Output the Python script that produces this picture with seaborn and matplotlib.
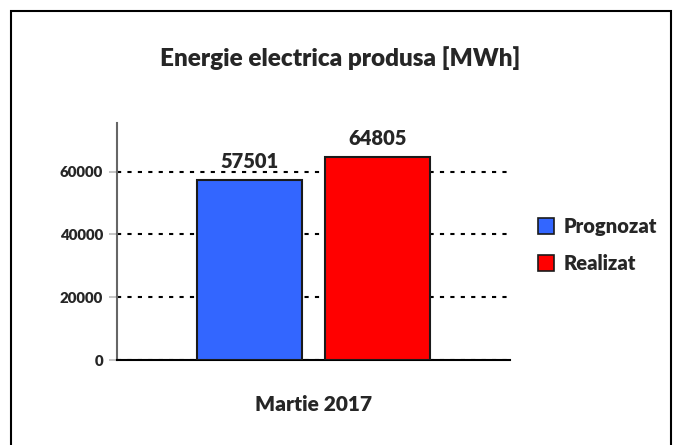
import pandas as pd
import seaborn as sns
import matplotlib.pyplot as plt
from matplotlib.patches import Rectangle, Patch

# date grafic
perioada = ["Martie 2017"]
serii = ["Prognozat", "Realizat"]
valori = [57501, 64805]
culori = ["#3366FF", "#FF0000"]
y_ticks = [0, 20000, 40000, 60000]

df = pd.DataFrame({"perioada": perioada * len(serii), "serie": serii, "valoare": valori})

sns.set_theme(style="white")
plt.rcParams['font.family'] = ['Lato', 'DejaVu Sans']

fig = plt.figure(figsize=(6.74, 4.45), dpi=100)
ax = fig.add_axes([117 / 674, 1 - 360 / 445, 393 / 674, 237 / 445])

sns.barplot(data=df, x="perioada", y="valoare", hue="serie", palette=culori,
            saturation=1, width=0.8, gap=0.18, edgecolor="#1a1a1a", linewidth=1.5,
            legend=False, ax=ax, zorder=3)

ax.set_xlim(-0.614, 0.614)
ax.set_ylim(0, 75500)
ax.set_yticks(y_ticks)
ax.set_yticklabels([str(v) for v in y_ticks], fontweight="heavy", fontsize=10.8)
ax.set_xticks([-0.614, 0.614])
ax.set_xticklabels(["", ""])
ax.tick_params(axis="x", length=8, color="#777777", width=1.2)
ax.tick_params(axis="y", length=6, color="#bbbbbb", width=1.2, pad=4, left=True)

ax.yaxis.grid(True, linestyle=(0, (2, 3)), color="black", linewidth=1.5)
ax.set_axisbelow(True)

for s in ["top", "right"]:
    ax.spines[s].set_visible(False)
ax.spines["left"].set_color("#666666")
ax.spines["left"].set_linewidth(1.5)
ax.spines["bottom"].set_color("black")
ax.spines["bottom"].set_linewidth(1.5)

for c in ax.containers:
    ax.bar_label(c, fmt="%d", padding=6, fontweight="heavy", fontsize=14.5)

ax.set_xlabel("Martie 2017", fontweight="heavy", fontsize=15, labelpad=14)
ax.set_ylabel("")

fig.text(0.505, 1 - 58 / 445, "Energie electrica produsa [MWh]",
         ha="center", va="center", fontweight="heavy", fontsize=17.5)

handles = [Patch(facecolor=culori[i], edgecolor="#1a1a1a", linewidth=1.2, label=serii[i])
           for i in range(len(serii))]
leg = fig.legend(handles=handles, loc="center left", bbox_to_anchor=(538 / 674, 1 - 245 / 445),
                 frameon=False, borderpad=0, borderaxespad=0, handlelength=0.8,
                 handleheight=0.8, handletextpad=0.45, labelspacing=0.9,
                 prop={"weight": "heavy", "size": 14.5})

# chenar exterior
fig.patches.append(Rectangle((11 / 674, -0.05), 660 / 674, 1.05 - 11 / 445,
                             transform=fig.transFigure, fill=False,
                             edgecolor="black", linewidth=1.5))

plt.savefig("out.png", dpi=100)
plt.close()
